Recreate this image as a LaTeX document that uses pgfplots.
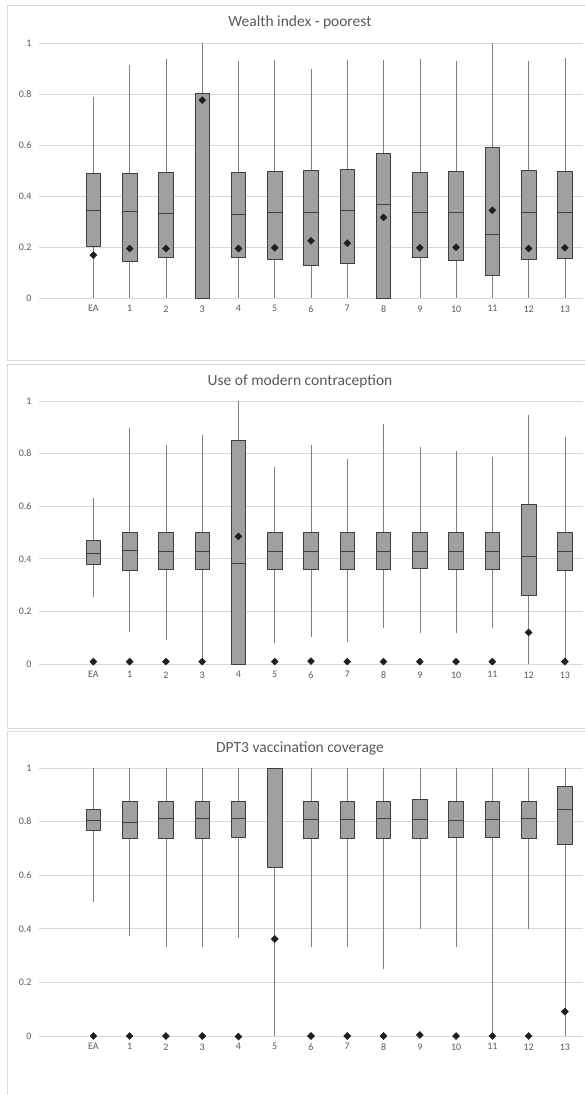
\documentclass[border=0pt]{standalone}
\usepackage{pgfplots}
\pgfplotsset{compat=1.18}
\usepgfplotslibrary{statistics}
\usepackage{fontspec}
\setmainfont{Carlito}
\definecolor{boxgray}{HTML}{A0A0A3}
\definecolor{boxedge}{HTML}{404040}
\definecolor{whisk}{HTML}{7F7F7F}
\definecolor{gridc}{HTML}{D9D9D9}
\definecolor{txt}{HTML}{595959}
\definecolor{framec}{HTML}{D9D9D9}

\pgfplotsset{
  panel/.style={
    scale only axis, width=544pt,
    xmin=-0.5, xmax=14.5, ymin=0, ymax=1,
    enlargelimits=false, clip=false,
    xtick={1,...,14},
    xticklabels={EA,1,2,3,4,5,6,7,8,9,10,11,12,13},
    ytick={0,0.2,0.4,0.6,0.8,1},
    ymajorgrids, grid style={draw=gridc, line width=0.7pt},
    axis line style={draw=none}, major tick length=0pt,
    tick label style={font=\fontsize{10}{11}\selectfont, text=txt},
    /pgf/number format/assume math mode=true,
    yticklabel style={xshift=-4pt},
    xticklabel style={yshift=-4pt},
    boxplot/draw direction=y,
    boxplot/whisker extend=0,
    boxplot/box extend=0.4,
    boxplot/every whisker/.style={draw=whisk, line width=0.6pt},
    boxplot/every box/.style={draw=boxedge, fill=boxgray, line width=0.7pt},
    boxplot/every median/.style={draw=boxedge, line width=0.7pt},
  },
  meanmark/.style={only marks, mark=square*, mark size=2.5pt,
    mark options={rotate=45, fill=black!88, draw=black!88}},
}
% bx{pos}{lower whisker}{lower quartile}{median}{upper quartile}{upper whisker}
\newcommand{\bx}[6]{\addplot[boxplot prepared={draw direction=y, draw position=#1,
  lower whisker=#2, lower quartile=#3, median=#4,
  upper quartile=#5, upper whisker=#6}] coordinates {};}

\begin{document}
\begin{tikzpicture}
\useasboundingbox (0pt,0pt) rectangle (585pt,-1095pt);
\begin{scope}
\clip (0pt,0pt) rectangle (585pt,-1095pt);
\draw[framec, line width=0.8pt] (7pt,-5pt) rectangle (592pt,-360pt);
\draw[framec, line width=0.8pt] (7pt,-364pt) rectangle (592pt,-728pt);
\draw[framec, line width=0.8pt] (7pt,-731pt) rectangle (592pt,-1102pt);
\end{scope}

\node[text=txt, font=\fontsize{15.5}{18}\selectfont] at (300pt,-22pt) {Wealth index - poorest};
\node[text=txt, font=\fontsize{15.5}{18}\selectfont] at (300pt,-381pt) {Use of modern contraception};
\node[text=txt, font=\fontsize{15.5}{18}\selectfont] at (300pt,-748pt) {DPT3 vaccination coverage};

\begin{axis}[panel, height=255pt, at={(39pt,-298pt)}, anchor=south west]
\bx{1}{0}{0.202}{0.344}{0.489}{0.789}
\bx{2}{0}{0.145}{0.340}{0.489}{0.915}
\bx{3}{0}{0.159}{0.332}{0.494}{0.939}
\bx{4}{0}{0}{0}{0.804}{1.0}
\bx{5}{0}{0.159}{0.329}{0.492}{0.928}
\bx{6}{0}{0.150}{0.336}{0.495}{0.935}
\bx{7}{0}{0.128}{0.334}{0.501}{0.900}
\bx{8}{0}{0.136}{0.344}{0.503}{0.935}
\bx{9}{0}{0}{0.366}{0.567}{0.932}
\bx{10}{0}{0.159}{0.336}{0.492}{0.936}
\bx{11}{0}{0.149}{0.336}{0.495}{0.928}
\bx{12}{0}{0.090}{0.250}{0.589}{1.0}
\bx{13}{0}{0.151}{0.334}{0.502}{0.928}
\bx{14}{0}{0.156}{0.336}{0.495}{0.941}
\addplot[meanmark] coordinates {(1,0.168) (2,0.194) (3,0.194) (4,0.776)
  (5,0.194) (6,0.197) (7,0.224) (8,0.215) (9,0.316) (10,0.197) (11,0.199)
  (12,0.344) (13,0.194) (14,0.197)};
\end{axis}

\begin{axis}[panel, height=263pt, at={(39pt,-664pt)}, anchor=south west]
\bx{1}{0.253}{0.379}{0.421}{0.470}{0.630}
\bx{2}{0.123}{0.355}{0.432}{0.499}{0.896}
\bx{3}{0.091}{0.361}{0.428}{0.499}{0.833}
\bx{4}{0}{0.359}{0.428}{0.499}{0.869}
\bx{5}{0}{0}{0.383}{0.850}{1.0}
\bx{6}{0.079}{0.359}{0.428}{0.499}{0.750}
\bx{7}{0.104}{0.359}{0.428}{0.499}{0.833}
\bx{8}{0.082}{0.359}{0.428}{0.499}{0.778}
\bx{9}{0.136}{0.359}{0.428}{0.499}{0.913}
\bx{10}{0.119}{0.364}{0.428}{0.499}{0.824}
\bx{11}{0.119}{0.359}{0.428}{0.499}{0.811}
\bx{12}{0.136}{0.359}{0.428}{0.499}{0.786}
\bx{13}{0}{0.260}{0.408}{0.606}{0.946}
\bx{14}{0}{0.356}{0.428}{0.499}{0.862}
\addplot[meanmark] coordinates {(1,0.009) (2,0.009) (3,0.009) (4,0.009)
  (5,0.485) (6,0.009) (7,0.011) (8,0.009) (9,0.009) (10,0.009) (11,0.009)
  (12,0.009) (13,0.120) (14,0.009)};
\end{axis}

\begin{axis}[panel, height=268pt, at={(39pt,-1036pt)}, anchor=south west]
\bx{1}{0.499}{0.767}{0.804}{0.844}{1.0}
\bx{2}{0.375}{0.737}{0.798}{0.874}{1.0}
\bx{3}{0.334}{0.737}{0.813}{0.874}{1.0}
\bx{4}{0.334}{0.737}{0.813}{0.874}{1.0}
\bx{5}{0.365}{0.741}{0.813}{0.874}{1.0}
\bx{6}{0}{0.630}{1.0}{1.0}{1.0}
\bx{7}{0.334}{0.737}{0.809}{0.874}{1.0}
\bx{8}{0.334}{0.737}{0.809}{0.874}{1.0}
\bx{9}{0.249}{0.737}{0.813}{0.874}{1.0}
\bx{10}{0.400}{0.737}{0.809}{0.883}{1.0}
\bx{11}{0.334}{0.741}{0.806}{0.874}{1.0}
\bx{12}{0}{0.741}{0.809}{0.874}{1.0}
\bx{13}{0.400}{0.737}{0.813}{0.874}{1.0}
\bx{14}{0}{0.715}{0.847}{0.930}{1.0}
\addplot[meanmark] coordinates {(1,0) (2,0) (3,0) (4,0) (5,-0.002)
  (6,0.362) (7,0) (8,0) (9,0) (10,0.004) (11,0) (12,0) (13,0) (14,0.091)};
\end{axis}
\end{tikzpicture}
\end{document}
